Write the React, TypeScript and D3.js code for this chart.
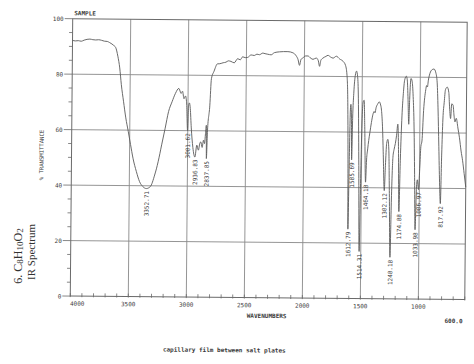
import React from "react";
import * as d3 from "d3";

const wavenumbers = [
  4000, 3975, 3950, 3925, 3900, 3875, 3850, 3825, 3800, 3775, 3750, 3725, 3700, 3680, 3660, 3645, 3628, 3608, 3591, 3576,
  3556, 3535, 3513, 3492, 3470, 3440, 3412, 3383, 3352.71, 3319, 3282, 3253, 3224, 3195, 3167, 3137, 3109, 3080, 3060, 3048,
  3035, 3022, 3012, 3001.62, 2995, 2988, 2980, 2970, 2955, 2936.83, 2921, 2907, 2895, 2887, 2875, 2864, 2855, 2847, 2840, 2837.85,
  2830, 2812, 2800, 2778, 2748, 2734, 2700, 2676, 2655, 2633, 2605, 2575, 2553, 2532, 2510, 2489, 2460, 2432, 2410, 2388,
  2359, 2340, 2316, 2287, 2259, 2215, 2180, 2143, 2100, 2071, 2055, 2042, 2030, 2013, 1990, 1970, 1945, 1926, 1898, 1880,
  1869, 1858, 1840, 1815, 1797, 1775, 1753, 1725, 1696, 1667, 1645, 1630, 1622, 1617, 1612.79, 1606, 1600, 1596, 1590, 1585.69,
  1580, 1572, 1560, 1550, 1540, 1532, 1524, 1514.31, 1506, 1498, 1490, 1482, 1475, 1464.18, 1457, 1448, 1440, 1430, 1418, 1405,
  1395, 1388, 1378, 1365, 1352, 1342, 1332, 1322, 1314, 1302.12, 1294, 1285, 1275, 1266, 1258, 1248.18, 1240, 1230, 1220, 1210,
  1200, 1190, 1183, 1174.88, 1166, 1155, 1145, 1134, 1120, 1112, 1104, 1096, 1090, 1080, 1070, 1060, 1050, 1042, 1033.98, 1025,
  1018, 1006.97, 998, 990, 981, 969, 952, 945, 938, 930, 923, 903, 883, 866, 854, 845, 835, 826, 817.92, 810,
  802, 792, 782, 767, 753, 745, 736, 727, 715, 707, 698, 687, 672, 658, 643, 629, 615, 600,
];

const transmittance = [
  92.2, 92.0, 92.1, 91.9, 92.3, 92.6, 92.7, 92.5, 92.4, 92.5, 92.3, 92.0, 91.9, 91.5, 91.0, 90.5, 89.8, 86.6, 82.4, 76.4,
  70.4, 64.4, 59.6, 54.8, 49.9, 45.1, 41.5, 39.7, 39.0, 39.7, 43.9, 48.7, 54.8, 60.8, 66.8, 70.4, 73.4, 75.2, 73.4, 74.2,
  71.5, 72.5, 70, 60, 69, 70, 68, 61, 54, 50.5, 54.8, 53, 55.5, 56, 54, 56.6, 55.4, 59, 62, 50,
  60, 69, 78.8, 81.5, 84.2, 84.2, 84.6, 84.8, 85.3, 85.1, 84.6, 86.1, 85.7, 86.8, 86.5, 86.6, 87.5, 87.3, 87.8, 87.6,
  88.2, 88.0, 87.8, 87.6, 88.4, 88.7, 88.8, 88.8, 88.4, 87.3, 86.0, 83.9, 86.0, 86.6, 87.3, 87.3, 86.5, 86.1, 86.6, 85.6,
  83.6, 85.8, 86.6, 87.2, 87.6, 87.0, 86.6, 87.3, 86.3, 85.5, 84, 79.5, 68, 50, 25, 50, 68, 70, 65, 50,
  65, 74, 80.5, 82, 80, 72, 50, 17, 45, 65, 71, 71.5, 62, 42, 50, 54, 57, 60, 63.5, 66.5,
  67.5, 67, 69, 70.2, 71, 70.2, 68, 62, 53, 39, 48, 56, 57.5, 54, 38, 15, 36, 51, 54, 56,
  59, 63, 55, 31.5, 50, 66, 74, 79, 80.3, 79, 72, 63, 72, 79.5, 78.5, 73, 62, 45, 25, 40,
  43, 39.5, 47, 55, 57, 68, 75.5, 77, 76.5, 79, 80.5, 82.6, 83, 81.6, 78, 69, 55, 42, 34.5, 52,
  65, 71, 75.6, 76.5, 74.6, 69, 65.2, 70.5, 70, 66.5, 64, 65.3, 61.8, 58.3, 53.5, 50, 45.4, 40.5,
];

const peakWavenumbers = [3352.71, 3001.62, 2936.83, 2837.85, 1612.79, 1585.69, 1514.31, 1464.18, 1302.12, 1248.18, 1174.88, 1033.98, 1006.97, 817.92];
const peakLabels = ["3352.71", "3001.62", "2936.83", "2837.85", "1612.79", "1585.69", "1514.31", "1464.18", "1302.12", "1248.18", "1174.88", "1033.98", "1006.97", "817.92"];

const xTickValues = [4000, 3500, 3000, 2500, 2000, 1500, 1000];
const xTickLabels = ["4000", "3500", "3000", "2500", "2000", "1500", "1000"];
const yTickValues = [0, 20, 40, 60, 80, 100];
const yTickLabels = ["0", "20", "40", "60", "80", "100"];

const MONO = "'DejaVu Sans Mono', 'Liberation Mono', monospace";
const SERIF = "'Liberation Serif', 'DejaVu Serif', serif";

export default function App() {
  const left = 71.5, right = 466, top = 20.4, bottom = 297.8;
  const x = d3.scaleLinear().domain([4000, 600]).range([left, right]);
  const y = d3.scaleLinear().domain([0, 100]).range([bottom, top]);

  const pts = wavenumbers.map((w, i) => [w, transmittance[i]] as [number, number]);
  const line = d3.line<[number, number]>().x((d) => x(d[0])).y((d) => y(d[1])).curve(d3.curveMonotoneX);
  const path = line(pts.slice().reverse()) || "";

  const minorX = d3.range(4000, 599, -100);
  const minorY = d3.range(0, 101, 5);
  const gridColor = "#8a8a8a";
  const textColor = "#3a3a3a";

  return (
    <svg width={474} height={364} style={{ position: "absolute", left: 0, top: 0, background: "#fff" }}>
      <rect x={0} y={0} width={474} height={364} fill="#fff" />
      <g transform="rotate(0.5 268 158)">
        {/* grid */}
        {xTickValues.slice(1).map((v) => (
          <line key={"gx" + v} x1={x(v)} x2={x(v)} y1={top} y2={bottom} stroke={gridColor} strokeWidth={0.9} />
        ))}
        {yTickValues.slice(1, -1).map((v) => (
          <line key={"gy" + v} x1={left} x2={right} y1={y(v)} y2={y(v)} stroke={gridColor} strokeWidth={0.9} />
        ))}
        <rect x={left} y={top} width={right - left} height={bottom - top} fill="none" stroke="#6a6a6a" strokeWidth={1} />

        {/* minor ticks */}
        {minorX.map((v) => (
          <line key={"mx" + v} x1={x(v)} x2={x(v)} y1={bottom - 3} y2={bottom + 1} stroke="#6a6a6a" strokeWidth={0.8} />
        ))}
        {minorY.map((v) => (
          <line key={"my" + v} x1={left - (v % 20 === 0 ? 8 : 3.5)} x2={left} y1={y(v)} y2={y(v)} stroke="#6a6a6a" strokeWidth={0.8} />
        ))}

        {/* y tick labels */}
        {yTickValues.map((v, i) => (
          <text key={"yl" + v} x={62.5} y={y(v)} textAnchor="end" dominantBaseline="central" fontFamily={MONO} fontSize={6} fill={textColor}>
            {yTickLabels[i]}
          </text>
        ))}
        {/* x tick labels */}
        {xTickValues.map((v, i) => (
          <text key={"xl" + v} x={v === 4000 ? x(v) + 7 : x(v)} y={305} textAnchor="middle" dominantBaseline="central" fontFamily={MONO} fontSize={6} fill={textColor}>
            {xTickLabels[i]}
          </text>
        ))}
        <text x={464} y={319} textAnchor="end" dominantBaseline="central" fontFamily={MONO} fontSize={6} fontWeight="bold" fill={textColor}>600.0</text>
        <text x={268} y={315.5} textAnchor="middle" dominantBaseline="central" fontFamily={MONO} fontSize={6} fontWeight="bold" fill={textColor}>WAVENUMBERS</text>
        <text x={226} y={350} textAnchor="middle" dominantBaseline="central" fontFamily={MONO} fontSize={6} fontWeight="bold" fill={textColor}>capillary film between salt plates</text>
        <text x={73} y={14.5} textAnchor="start" dominantBaseline="central" fontFamily={MONO} fontSize={6} fontWeight="bold" fill={textColor}>SAMPLE</text>
        <text transform="translate(41.5 157) rotate(-90)" textAnchor="middle" dominantBaseline="central" fontFamily={MONO} fontSize={5.6} fill={textColor}>% TRANSMITTANCE</text>

        {/* spectrum */}
        <path d={path} fill="none" stroke="#5a5a5a" strokeWidth={0.9} />

        {/* peak labels */}
        {peakWavenumbers.map((w, i) => {
          const idx = wavenumbers.indexOf(w);
          const t = transmittance[idx];
          return (
            <text key={"pk" + i} transform={`translate(${x(w)} ${y(t) + 2.5}) rotate(-90)`} textAnchor="end" dominantBaseline="central" fontFamily={MONO} fontSize={6} fill={textColor}>
              {peakLabels[i]}
            </text>
          );
        })}
      </g>

      {/* handwritten-style side title */}
      <text transform="translate(17.5 256) rotate(-90)" textAnchor="middle" dominantBaseline="central" fontFamily={SERIF} fontSize={12} fill="#333">
        6. C<tspan fontSize={9} dy={2}>8</tspan><tspan dy={-2}>H</tspan><tspan fontSize={9} dy={2}>10</tspan><tspan dy={-2}>O</tspan><tspan fontSize={9} dy={2}>2</tspan>
      </text>
      <text transform="translate(30.5 252) rotate(-90)" textAnchor="middle" dominantBaseline="central" fontFamily={SERIF} fontSize={11} fill="#333">
        IR Spectrum
      </text>
    </svg>
  );
}
